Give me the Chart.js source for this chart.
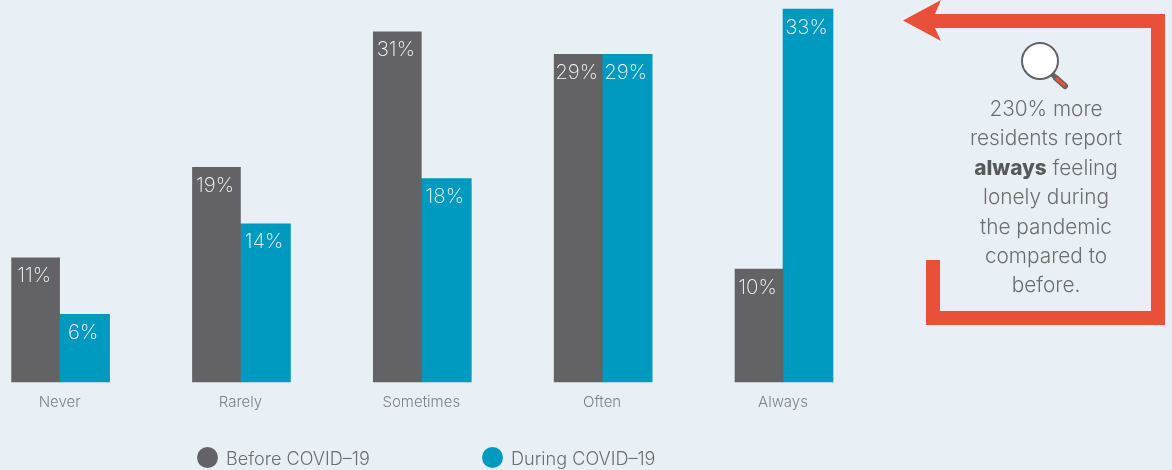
<!DOCTYPE html>
<html>
<head>
<meta charset="utf-8">
<script src="https://cdn.jsdelivr.net/npm/chart.js@4"></script>
<style>
  html, body { margin: 0; padding: 0; background: #e8f0f6; }
  #wrap { position: relative; width: 1172px; height: 470px; overflow: hidden; font-family: Inter, sans-serif; font-weight: 300; }
  canvas, svg { position: absolute; left: 0; top: 0; }
  .note { position: absolute; left: 946px; top: 94px; width: 200px; text-align: center; font-size: 20.8px; line-height: 29.4px; color: #6d6e71; }
  .note b { font-weight: 800; color: #58595b; }
  .key { position: absolute; top: 446px; font-size: 18.1px; line-height: 24px; color: #6d6e71; white-space: nowrap; }
  .key i { position: absolute; left: -29px; top: 1px; width: 21px; height: 21px; border-radius: 50%; }
</style>
</head>
<body>
<div id="wrap">
  <canvas id="lonelyChart" width="1172" height="470"></canvas>
  <svg width="1172" height="470">
    <path fill="#e8503a" d="M903 20.5 L941 0 L935 14 H1165 V325 H926 V260 H940 V311 H1151 V28 H935 L941 41 Z"/>
    <line x1="1051" y1="73" x2="1056" y2="78" stroke="#636365" stroke-width="5"/>
    <line x1="1056" y1="78" x2="1065" y2="86" stroke="#636365" stroke-width="6" stroke-linecap="round"/>
    <line x1="1057" y1="79" x2="1064" y2="85" stroke="#e8503a" stroke-width="3.5" stroke-linecap="round"/>
    <circle cx="1040" cy="61" r="18" fill="#fff" stroke="#636365" stroke-width="2"/>
  </svg>
  <div class="note">230% more<br>residents report<br><b>always</b> feeling<br>lonely during<br>the pandemic<br>compared to<br>before.</div>
  <div class="key" style="left:226px"><i style="background:#636365"></i><span id="key0"></span></div>
  <div class="key" style="left:511px"><i style="background:#0099bf"></i><span id="key1"></span></div>
</div>
<script>
const categories = ['Never', 'Rarely', 'Sometimes', 'Often', 'Always'];
const beforeCovid = [11, 19, 31, 29, 10];
const duringCovid = [6, 14, 18, 29, 33];
const seriesNames = ['Before COVID\u201319', 'During COVID\u201319'];

document.getElementById('key0').textContent = seriesNames[0];
document.getElementById('key1').textContent = seriesNames[1];

// Percent labels sit inside the top of each bar
const barLabels = {
    id: 'barLabels',
    afterDatasetsDraw(chart) {
        const ctx = chart.ctx;
        ctx.save();
        ctx.font = '200 20.5px Inter, sans-serif';
        ctx.fillStyle = '#f4f5f6';
        ctx.textAlign = 'center';
        ctx.textBaseline = 'middle';
        chart.data.datasets.forEach((ds, i) => {
            chart.getDatasetMeta(i).data.forEach((bar, j) => {
                ctx.fillText(ds.data[j] + '%', bar.x - 1.5, bar.y + 18.5);
            });
        });
        ctx.restore();
    }
};

new Chart(document.getElementById('lonelyChart'), {
    type: 'bar',
    data: {
        labels: categories,
        datasets: [
            { label: seriesNames[0], data: beforeCovid, backgroundColor: '#636365', barThickness: 48, clip: false },
            { label: seriesNames[1], data: duringCovid, backgroundColor: '#0099bf', barThickness: 50, clip: false }
        ]
    },
    options: {
        responsive: false,
        animation: false,
        layout: { padding: { left: 59.6, right: 389, top: 3.5, bottom: 0 } },
        plugins: { legend: { display: false }, tooltip: { enabled: false } },
        scales: {
            x: {
                offset: false,
                grid: { display: false },
                border: { display: false },
                afterFit: (scale) => { scale.height = 88; },
                ticks: {
                    padding: 3,
                    maxRotation: 0,
                    autoSkip: false,
                    color: '#808285',
                    font: { family: 'Inter, sans-serif', size: 15, weight: 300 }
                }
            },
            y: { display: false, min: 0, max: 33.5 }
        }
    },
    plugins: [barLabels]
});
</script>
</body>
</html>
